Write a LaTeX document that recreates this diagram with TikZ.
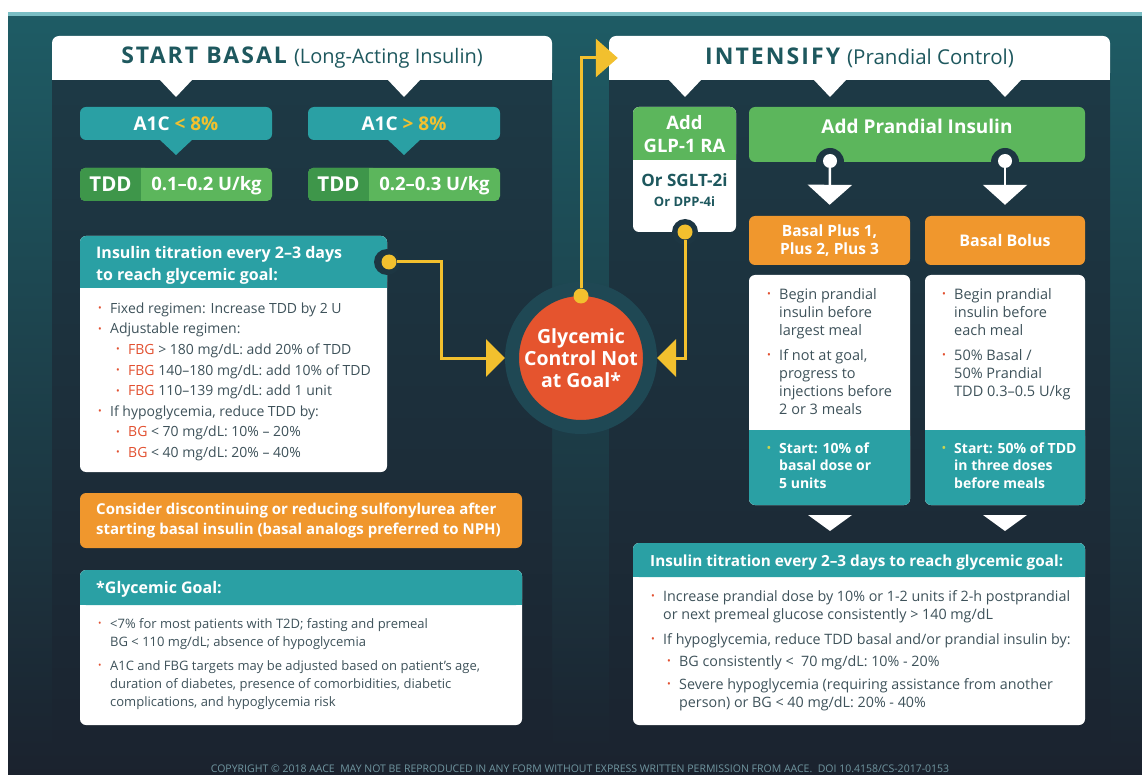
\documentclass[tikz,border=0pt]{standalone}
\usepackage{fontspec}
\setmainfont{Open Sans}
\usepackage{graphicx}
\usepackage{tikz}
\usetikzlibrary{arrows.meta,positioning,calc}

\definecolor{bgtop}{RGB}{30,92,101}
\definecolor{bgbot}{RGB}{27,34,46}
\definecolor{pantop}{RGB}{29,58,70}
\definecolor{panbot}{RGB}{27,36,48}
\definecolor{panc}{RGB}{29,54,66}
\definecolor{ringc}{RGB}{31,72,84}
\definecolor{tealc}{RGB}{42,160,164}
\definecolor{grnL}{RGB}{92,182,92}
\definecolor{grnD}{RGB}{62,150,74}
\definecolor{orng}{RGB}{240,151,45}
\definecolor{redc}{RGB}{229,84,46}
\definecolor{yel}{RGB}{242,192,46}
\definecolor{hdtxt}{RGB}{30,88,94}
\definecolor{bodyc}{RGB}{62,82,90}
\definecolor{redt}{RGB}{226,80,48}
\definecolor{bulg}{RGB}{200,212,80}
\definecolor{foot}{RGB}{112,150,160}
\definecolor{topln}{RGB}{122,190,196}

\newcommand\bul[1][redt]{\makebox[12pt][l]{\color{#1}\raisebox{1.5pt}{\scalebox{0.7}{\textbullet}}}}

\tikzset{
  headbox/.style={fill=white, rounded corners=7pt, minimum width=500pt, minimum height=44pt, inner sep=0pt, text=hdtxt},
  a1cbox/.style={fill=tealc, rounded corners=6pt, minimum width=192pt, minimum height=33pt, inner sep=0pt, text=white, font=\bfseries\fontsize{19}{22}\selectfont},
  tddkey/.style={anchor=base, text=white, inner sep=0pt, font=\bfseries\fontsize{20.5}{24}\selectfont},
  tddval/.style={anchor=base, text=white, inner sep=0pt, font=\bfseries\fontsize{18.5}{22}\selectfont},
  boldw/.style={text=white, inner sep=0pt, align=center, font=\bfseries\fontsize{18.5}{23}\selectfont},
  orbox/.style={fill=orng, rounded corners=6pt, minimum width=161pt, minimum height=49pt, inner sep=0pt, align=center, text=white, font=\bfseries\fontsize{15.5}{18}\selectfont},
  hdtext/.style={anchor=north west, align=left, inner sep=0pt, text=white, font=\bfseries\fontsize{16}{22}\selectfont},
  bodytext/.style={anchor=north west, align=left, inner sep=0pt, text=bodyc, font=\fontsize{14}{20.6}\selectfont},
  goalc/.style={circle, fill=redc, draw=ringc, line width=14pt, minimum size=138pt, inner sep=0pt, align=center, text=white, font=\bfseries\fontsize{19.5}{22}\selectfont},
  ydot/.style={circle, fill=yel, minimum size=15pt, inner sep=0pt},
  wdot/.style={circle, fill=white, minimum size=14pt, inner sep=0pt},
  yline/.style={draw=yel, line width=3pt},
  wline/.style={draw=white, line width=2.5pt},
  yarrow/.style={-{Triangle[length=19pt,width=37pt]}},
  warrow/.style={-{Triangle[length=20pt,width=44pt]}},
  footer/.style={text=foot, inner sep=0pt, font=\fontsize{10.5}{12}\selectfont}
}

\begin{document}
\begin{tikzpicture}[x=1pt, y=-1pt]
\useasboundingbox (0,0) rectangle (1142,775);
% background
\fill[white] (0,0) rectangle (1142,775);
\shade[top color=bgtop, bottom color=bgbot] (8,13) rectangle (1142,775);
\fill[topln] (8,12) rectangle (1142,16);
\shade[top color=pantop, bottom color=panbot] (52,58) rectangle (552,745);
\shade[top color=pantop, bottom color=panbot] (609,58) rectangle (1110,745);

% START BASAL panel
\fill[white] (52,60) rectangle (552,80);
\node[headbox] (hdrL) at (302,58) {{\bfseries\fontsize{23}{26}\selectfont\addfontfeature{LetterSpace=9}START BASAL}\hspace{7pt}{\fontsize{20}{24}\selectfont(Long-Acting Insulin)}};
\fill[white] (159,79) -- (193,79) -- (176,97) -- cycle;
\fill[white] (387,79) -- (421,79) -- (404,97) -- cycle;

\node[a1cbox] (a1cL) at (176,123.5) {A1C {\color{yel}< 8\%}};
\node[a1cbox] (a1cR) at (404,123.5) {A1C {\color{yel}> 8\%}};
\fill[tealc] (159,139) -- (193,139) -- (176,155) -- cycle;
\fill[tealc] (387,139) -- (421,139) -- (404,155) -- cycle;

\fill[grnL, rounded corners=5pt] (80,168) rectangle (272,201);
\fill[grnD, rounded corners=5pt] (80,168) rectangle (150,201);
\fill[grnL] (141,168) rectangle (156,201);
\node[tddkey] (tddLk) at (110.5,192) {TDD};
\node[tddval] (tddLv) at (206.5,191) {0.1–0.2 U/kg};
\fill[grnL, rounded corners=5pt] (308,168) rectangle (500,201);
\fill[grnD, rounded corners=5pt] (308,168) rectangle (378,201);
\fill[grnL] (369,168) rectangle (384,201);
\node[tddkey] (tddRk) at (338.5,192) {TDD};
\node[tddval] (tddRv) at (434.5,191) {0.2–0.3 U/kg};

% titration box
\fill[white, rounded corners=6pt] (80,236) rectangle (387,472);
\fill[tealc, rounded corners=6pt] (80,236) rectangle (387,288);
\fill[tealc] (80,276) rectangle (387,288);
\node[hdtext] (titLh) at (96,242.6) {\strut Insulin titration every 2–3 days\\to reach glycemic goal:};
\node[bodytext] (titLb) at (98,298.6) {\strut\bul Fixed regimen: Increase TDD by 2 U\\
\bul Adjustable regimen:\\
\hspace*{18pt}\bul{\color{redt}FBG} > 180 mg/dL: add 20\% of TDD\\
\hspace*{18pt}\bul{\color{redt}FBG} 140–180 mg/dL: add 10\% of TDD\\
\hspace*{18pt}\bul{\color{redt}FBG} 110–139 mg/dL: add 1 unit\\
\bul If hypoglycemia, reduce TDD by:\\
\hspace*{18pt}\bul{\color{redt}BG} < 70 mg/dL: 10\% – 20\%\\
\hspace*{18pt}\bul{\color{redt}BG} < 40 mg/dL: 20\% – 40\%};
\fill[panc] (387,262) circle (13pt);
\node[ydot] (dotT) at (389,262) {};

% sulfonylurea note
\node[fill=orng, rounded corners=6pt, minimum width=442pt, minimum height=55pt] (sulf) at (301,520.5) {};
\node[hdtext, font=\bfseries\fontsize{15}{20}\selectfont] (sulfT) at (96,500) {\strut Consider discontinuing or reducing sulfonylurea after\\starting basal insulin (basal analogs preferred to NPH)};

% glycemic goal
\fill[white, rounded corners=6pt] (80,570) rectangle (522,725);
\fill[tealc, rounded corners=6pt] (80,570) rectangle (522,605);
\fill[tealc] (80,590) rectangle (522,605);
\node[hdtext, font=\bfseries\fontsize{16}{20}\selectfont] (goalh) at (96,579) {\strut*Glycemic Goal:};
\node[bodytext, font=\fontsize{13}{18}\selectfont] (goalb) at (98,615.4) {\strut\bul <7\% for most patients with T2D; fasting and premeal\\
\hspace*{12pt}BG < 110 mg/dL; absence of hypoglycemia\\[6pt]
\bul A1C and FBG targets may be adjusted based on patient’s age,\\
\hspace*{12pt}duration of diabetes, presence of comorbidities, diabetic\\
\hspace*{12pt}complications, and hypoglycemia risk};

% INTENSIFY panel
\fill[white] (609,60) rectangle (1110,80);
\node[headbox, minimum width=501pt] (hdrR) at (859.5,58) {{\bfseries\fontsize{23}{26}\selectfont\addfontfeature{LetterSpace=9}INTENSIFY}\hspace{7pt}{\fontsize{20.5}{24}\selectfont(Prandial Control)}};
\fill[white] (668,79) -- (702,79) -- (685,97) -- cycle;
\fill[white] (813,79) -- (847,79) -- (830,97) -- cycle;
\fill[white] (988,79) -- (1022,79) -- (1005,97) -- cycle;

\fill[white, rounded corners=6pt] (633,107) rectangle (736,232);
\fill[grnL, rounded corners=6pt] (633,107) rectangle (736,160);
\fill[grnL] (633,150) rectangle (736,160);
\node[boldw] (glpA) at (684.5,134) {Add\\GLP-1 RA};
\node[boldw, text=hdtxt, font=\bfseries\fontsize{17}{20}\selectfont] (glpB) at (684.5,190) {Or SGLT-2i\\{\fontsize{13}{15}\selectfont Or DPP-4i}};
\fill[panc] (685,232) circle (13pt);
\node[ydot] (dotG) at (685,232) {};

\node[fill=grnL, rounded corners=6pt, minimum width=336pt, minimum height=55pt] (prand) at (917,134.5) {};
\node[boldw, font=\bfseries\fontsize{19}{22}\selectfont] (prandT) at (917,126) {Add Prandial Insulin};
\fill[panc] (830,162) circle (14pt);
\fill[panc] (1005,162) circle (14pt);
\node[wdot] (dotP1) at (830,161) {};
\node[wdot] (dotP2) at (1005,161) {};

\node[orbox] (plus) at (829.5,240.5) {Basal Plus 1,\\Plus 2, Plus 3};
\node[orbox, minimum width=160pt, font=\bfseries\fontsize{16}{18}\selectfont] (bolus) at (1005,240.5) {Basal Bolus};
\draw[wline, warrow, shorten >=11pt] (dotP1) -- (plus.north);
\draw[wline, warrow, shorten >=11pt] (dotP2) -- (bolus.north);

\fill[white, rounded corners=6pt] (749,275) rectangle (910,505);
\fill[tealc, rounded corners=6pt] (749,430) rectangle (910,505);
\fill[tealc] (749,430) rectangle (910,445);
\node[bodytext, font=\fontsize{14.5}{18}\selectfont] (plusB) at (767,286.4) {\strut\bul Begin prandial\\
\hspace*{12pt}insulin before\\
\hspace*{12pt}largest meal\\[7pt]
\bul If not at goal,\\
\hspace*{12pt}progress to\\
\hspace*{12pt}injections before\\
\hspace*{12pt}2 or 3 meals};
\node[hdtext, font=\bfseries\fontsize{14}{17.5}\selectfont] (plusS) at (767,440.75) {\strut\bul[bulg]Start: 10\% of\\
\hspace*{12pt}basal dose or\\
\hspace*{12pt}5 units};

\fill[white, rounded corners=6pt] (925,275) rectangle (1085,505);
\fill[tealc, rounded corners=6pt] (925,430) rectangle (1085,505);
\fill[tealc] (925,430) rectangle (1085,445);
\node[bodytext, font=\fontsize{14.5}{18}\selectfont] (bolusB) at (942,286.4) {\strut\bul Begin prandial\\
\hspace*{12pt}insulin before\\
\hspace*{12pt}each meal\\[7pt]
\bul 50\% Basal /\\
\hspace*{12pt}50\% Prandial\\
\hspace*{12pt}TDD 0.3–0.5 U/kg};
\node[hdtext, font=\bfseries\fontsize{14}{17.5}\selectfont] (bolusS) at (942,440.75) {\strut\bul[bulg]Start: 50\% of TDD\\
\hspace*{12pt}in three doses\\
\hspace*{12pt}before meals};

\fill[white] (808,515) -- (852,515) -- (830,531) -- cycle;
\fill[white] (983,515) -- (1027,515) -- (1005,531) -- cycle;

% prandial titration
\fill[white, rounded corners=6pt] (633,543) rectangle (1085,725);
\fill[tealc, rounded corners=6pt] (633,543) rectangle (1085,577);
\fill[tealc] (633,565) rectangle (1085,577);
\node[hdtext, font=\bfseries\fontsize{15.3}{20}\selectfont] (titRh) at (650,552) {\strut Insulin titration every 2–3 days to reach glycemic goal:};
\node[bodytext, font=\fontsize{14.3}{18}\selectfont] (titRb) at (651,588.4) {\strut\bul Increase prandial dose by 10\% or 1-2 units if 2-h postprandial\\
\hspace*{12pt}or next premeal glucose consistently > 140 mg/dL\\[7pt]
\bul If hypoglycemia, reduce TDD basal and/or prandial insulin by:\\[4pt]
\hspace*{16pt}\bul BG consistently <\ \ 70 mg/dL: 10\% - 20\%\\[5pt]
\hspace*{16pt}\bul Severe hypoglycemia (requiring assistance from another\\
\hspace*{28pt}person) or BG < 40 mg/dL: 20\% - 40\%};

% central decision
\node[goalc] (goal) at (581,358) {Glycemic\\Control Not\\at Goal*};
\node[ydot] (dotC) at (581,296) {};
\draw[yline, yarrow] (dotT) -- (441,262) |- (goal.west);
\draw[yline, yarrow] (dotG) |- (goal.east);
\draw[yline, -{Triangle[length=22pt,width=38pt]}, shorten >=-9pt] (dotC) |- (hdrR.west);

\node[footer] (copy) at (580,769) {COPYRIGHT © 2018 AACE\ \ MAY NOT BE REPRODUCED IN ANY FORM WITHOUT EXPRESS WRITTEN PERMISSION FROM AACE.\ \ DOI 10.4158/CS-2017-0153};
\end{tikzpicture}
\end{document}
